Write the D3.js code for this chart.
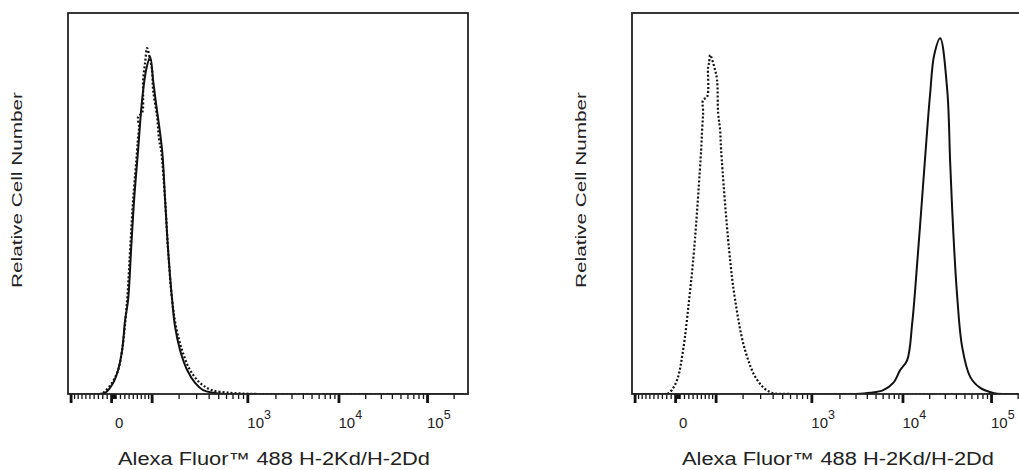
<!DOCTYPE html>
<html>
<head>
<meta charset="utf-8">
<script src="https://cdn.jsdelivr.net/npm/d3@7"></script>
<style>
  body { margin: 0; background: #fff; }
  text { font-family: "Liberation Sans", Arial, sans-serif; fill: #222; }
</style>
</head>
<body>
<div id="chart"></div>
<script>
// histogram data: [fluorescence value, % of axis height]
var leftControl = [
    [-150, 0], [-24.9, 0], [-15.8, 0.5], [2.2, 2.9], [15.8, 6.3], [24.9, 11.5],
    [36.5, 24.7], [43.5, 37.8], [50.8, 50.9], [60.7, 64.0], [63.2, 67.5],
    [65.7, 70.1], [63.2, 72.7], [73.5, 73.8], [76.2, 78.0], [76.2, 82.4],
    [81.5, 86.9], [87, 90.8], [95.6, 87.7], [101.4, 85.0], [104.4, 79.8],
    [116.9, 72.7], [123.4, 66.7], [130, 64.0], [144.2, 50.9], [155.4, 37.8],
    [171.4, 24.7], [188.6, 17.6], [217, 11.5], [261, 6.3], [329, 2.9],
    [434, 1.0], [663, 0.3], [948, 0.1], [1300, 0], [262144, 0]
];
var leftStained = [
    [-150, 0], [-24.9, 0], [-13.5, 0.3], [4.5, 2.9], [15.8, 6.3], [24.9, 11.5],
    [31.8, 19.4], [38.8, 24.7], [45.9, 37.8], [53.2, 50.9], [63.2, 64.0],
    [73.5, 77.2], [84.3, 85.0], [95.6, 88.5], [104.4, 82.4], [112, 77.2],
    [133.5, 64.0], [144.2, 50.9], [155.4, 37.8], [171.4, 24.7], [184, 17.6],
    [207, 11.5], [244, 6.3], [293, 2.9], [352, 1.0], [444, 0.3], [588, 0],
    [262144, 0]
];
var rightControl = [
    [-150, 0], [-20.3, 0], [-11.3, 0.5], [4.5, 3.7], [18.0, 11.5], [31.8, 24.7],
    [43.5, 37.8], [60.7, 64.0], [63.2, 69.3], [65.7, 73.8], [65.7, 77.2],
    [76.2, 78.0], [78.8, 85.8], [81.5, 86.9], [84.3, 89.0], [98.5, 85.0],
    [104.4, 82.4], [107.5, 73.8], [113.7, 69.3], [116.9, 64.0], [144.2, 37.8],
    [167.3, 24.7], [212, 11.5], [280, 3.7], [377, 0.5], [602, 0], [262144, 0]
];
var rightStained = [
    [-150, 0], [3000, 0], [4370, 0.3], [6095, 1.0], [7880, 2.9], [9440, 6.3],
    [11300, 8.9], [12870, 18.6], [14650, 34.4], [16670, 51.7], [18970, 69.3],
    [20520, 79.0], [22760, 89.0], [26600, 93.4], [31940, 79.8], [34510, 60.6],
    [37310, 43.0], [41430, 25.5], [47170, 12.3], [58120, 4.5], [75440, 1.6],
    [105800, 0.3], [140000, 0], [262144, 0]
];

var majorTicks = [-100, 0, 100, 1000, 10000, 100000];
var tickLabels = [0, 1000, 10000, 100000];
var tickExponents = [null, 3, 4, 5];
var yTitle = "Relative Cell Number";
var xTitle = "Alexa Fluor™ 488 H-2Kd/H-2Dd";

// minor ticks: 2..9 x each decade, both sides of zero
var minorTicks = [];
[1, 10, 100, 1000, 10000, 100000].forEach(function (dec) {
    d3.range(2, 10).forEach(function (k) { minorTicks.push(k * dec); });
});
minorTicks = minorTicks.filter(function (v) { return v <= 262144; })
    .concat(d3.range(2, 10).map(function (k) { return -k * 10; }))
    .concat([10, -10]);

/*********************** logicle transform ***********************/
var T = 262144, M = 4.5, W = 0.5;
var mNat = M * Math.LN10, wNat = W * Math.LN10;

function solveP(w) {
    var lo = 1.0001, hi = 100;
    for (var i = 0; i < 80; i++) {
        var mid = (lo + hi) / 2;
        if (2 * mid * Math.log(mid) / (mid + 1) > w) hi = mid; else lo = mid;
    }
    return (lo + hi) / 2;
}
var p = solveP(wNat);
var scaleA = T * Math.exp(-(mNat - wNat));

function biex(u) {
    if (u < 0) return -biex(-u);
    return scaleA * (Math.exp(u) - p * p * Math.exp(-u / p) + p * p - 1);
}

function logicle(v) {
    var lo = -20, hi = 20;
    for (var i = 0; i < 60; i++) {
        var mid = (lo + hi) / 2;
        if (biex(mid) > v) hi = mid; else lo = mid;
    }
    return ((lo + hi) / 2 + wNat) / mNat;
}

/*********************** layout ***********************/
var svgW = 1019, svgH = 470;
var plotW = 400, plotH = 381, plotTop = 13;
var panels = [
    { ox: 68, control: leftControl, stained: leftStained },
    { ox: 632, control: rightControl, stained: rightStained }
];

var svg = d3.select("#chart")
    .append("svg")
    .attr("width", svgW)
    .attr("height", svgH);

var xScale = d3.scaleLinear().domain([0, 1]).range([-1, 396]);
var yScale = d3.scaleLinear().domain([0, 100]).range([plotH, 0]);

var line = d3.line()
    .x(function (d) { return xScale(logicle(d[0])); })
    .y(function (d) { return yScale(d[1]); })
    .curve(d3.curveCatmullRom.alpha(0.5));

svg.append("clipPath")
    .attr("id", "plotclip")
    .append("rect")
    .attr("x", 0).attr("y", -5)
    .attr("width", plotW).attr("height", plotH + 5);

panels.forEach(function (panel) {
    var g = svg.append("g")
        .attr("transform", "translate(" + panel.ox + "," + plotTop + ")");

    // minor ticks
    g.append("g")
        .attr("transform", "translate(0," + plotH + ")")
        .call(d3.axisBottom(xScale)
            .tickValues(minorTicks.map(logicle))
            .tickSize(5)
            .tickFormat(""))
        .call(function (a) {
            a.select(".domain").remove();
            a.selectAll("line").attr("stroke", "#111").attr("stroke-width", 1.3);
        });

    // major ticks
    g.append("g")
        .attr("transform", "translate(0," + plotH + ")")
        .call(d3.axisBottom(xScale)
            .tickValues(majorTicks.map(logicle))
            .tickSize(9)
            .tickFormat(""))
        .call(function (a) {
            a.select(".domain").remove();
            a.selectAll("line").attr("stroke", "#111").attr("stroke-width", 2.8);
        });

    // tick labels
    var labels = g.selectAll("text.ticklabel")
        .data(tickLabels)
        .enter()
        .append("text")
        .attr("class", "ticklabel")
        .attr("x", function (d, i) { return xScale(logicle(d)) + (i == 0 ? 4 : 0); })
        .attr("y", plotH + 34)
        .style("font-size", "15px");
    labels.append("tspan")
        .text(function (d, i) { return tickExponents[i] == null ? "0" : "10"; });
    labels.filter(function (d, i) { return tickExponents[i] != null; })
        .append("tspan")
        .attr("dy", -9)
        .style("font-size", "12.5px")
        .text(function (d) { return tickExponents[tickLabels.indexOf(d)]; });

    // curves
    var curves = g.append("g").attr("clip-path", "url(#plotclip)");
    curves.append("path")
        .attr("d", line(panel.control))
        .attr("fill", "none")
        .attr("stroke", "#111")
        .attr("stroke-width", 2.2)
        .attr("stroke-dasharray", "2,2");
    curves.append("path")
        .attr("d", line(panel.stained))
        .attr("fill", "none")
        .attr("stroke", "#111")
        .attr("stroke-width", 2);

    // frame
    g.append("rect")
        .attr("x", 0).attr("y", 0)
        .attr("width", plotW).attr("height", plotH)
        .attr("fill", "none")
        .attr("stroke", "#222")
        .attr("stroke-width", 1.8);

    // titles
    g.append("text")
        .attr("transform", "translate(-46," + (190 - plotTop) + ") rotate(-90)")
        .attr("text-anchor", "middle")
        .attr("textLength", 196)
        .attr("lengthAdjust", "spacingAndGlyphs")
        .style("font-size", "15.5px")
        .text(yTitle);

    g.append("text")
        .attr("x", 50)
        .attr("y", 465 - plotTop)
        .attr("textLength", 312)
        .attr("lengthAdjust", "spacingAndGlyphs")
        .style("font-size", "17.5px")
        .text(xTitle);
});
</script>
</body>
</html>
